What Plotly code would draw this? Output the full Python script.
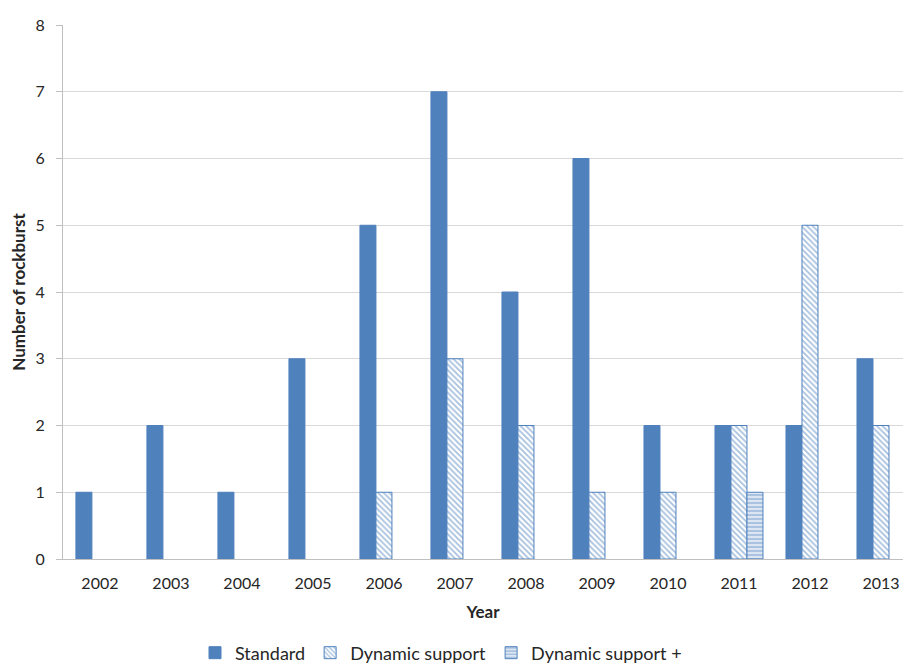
import plotly.graph_objects as go

years = ["2002", "2003", "2004", "2005", "2006", "2007", "2008",
         "2009", "2010", "2011", "2012", "2013"]
standard = [1, 2, 1, 3, 5, 7, 4, 6, 2, 2, 2, 3]
dynamic_support = [None, None, None, None, 1, 3, 2, 1, 1, 2, 5, 2]
dynamic_support_plus = [None, None, None, None, None, None, None, None, None, 1, None, None]

BLUE = "#4F81BD"
FONT = "Lato"

fig = go.Figure()
fig.add_trace(go.Bar(
    x=years, y=standard, name="Standard",
    marker=dict(color=BLUE, line=dict(color=BLUE, width=1)),
))
fig.add_trace(go.Bar(
    x=years, y=dynamic_support, name="Dynamic support",
    marker=dict(color="white", line=dict(color=BLUE, width=1),
                pattern=dict(shape="\\", fgcolor=BLUE, bgcolor="white",
                             size=4, solidity=0.45)),
))
fig.add_trace(go.Bar(
    x=years, y=dynamic_support_plus, name="Dynamic support +",
    marker=dict(color="white", line=dict(color=BLUE, width=1),
                pattern=dict(shape="-", fgcolor=BLUE, bgcolor="#DCE6F2",
                             size=4, solidity=0.35)),
))

fig.update_layout(
    width=903, height=670,
    margin=dict(l=63, r=0, t=25, b=111, autoexpand=False),
    paper_bgcolor="white", plot_bgcolor="white",
    barmode="group", bargap=0.324, bargroupgap=0,
    font=dict(family=FONT, color="#262626", size=15),
    showlegend=True,
    legend=dict(orientation="h", x=0.45, xanchor="center", y=-0.176, yanchor="middle",
                font=dict(size=18, family=FONT), itemwidth=30,
                traceorder="normal"),
    xaxis=dict(
        type="category", range=[-0.52, 11.31], automargin=False,
        showline=True, linecolor="#BFBFBF", linewidth=1,
        ticks="", showgrid=False,
        tickfont=dict(size=16), ticklabelstandoff=10,
        title=dict(text="<b>Year</b>", font=dict(size=17), standoff=14),
    ),
    yaxis=dict(
        range=[0, 8], dtick=1, automargin=False,
        showline=True, linecolor="#BFBFBF", linewidth=1,
        ticks="outside", ticklen=6, tickcolor="#BFBFBF",
        showgrid=True, gridcolor="#D9D9D9", gridwidth=1,
        zeroline=False,
        tickfont=dict(size=16), ticklabelstandoff=8,
        title=dict(text="<b>Number of rockburst</b>", font=dict(size=17), standoff=5),
    ),
)

fig.write_html("out.html")
